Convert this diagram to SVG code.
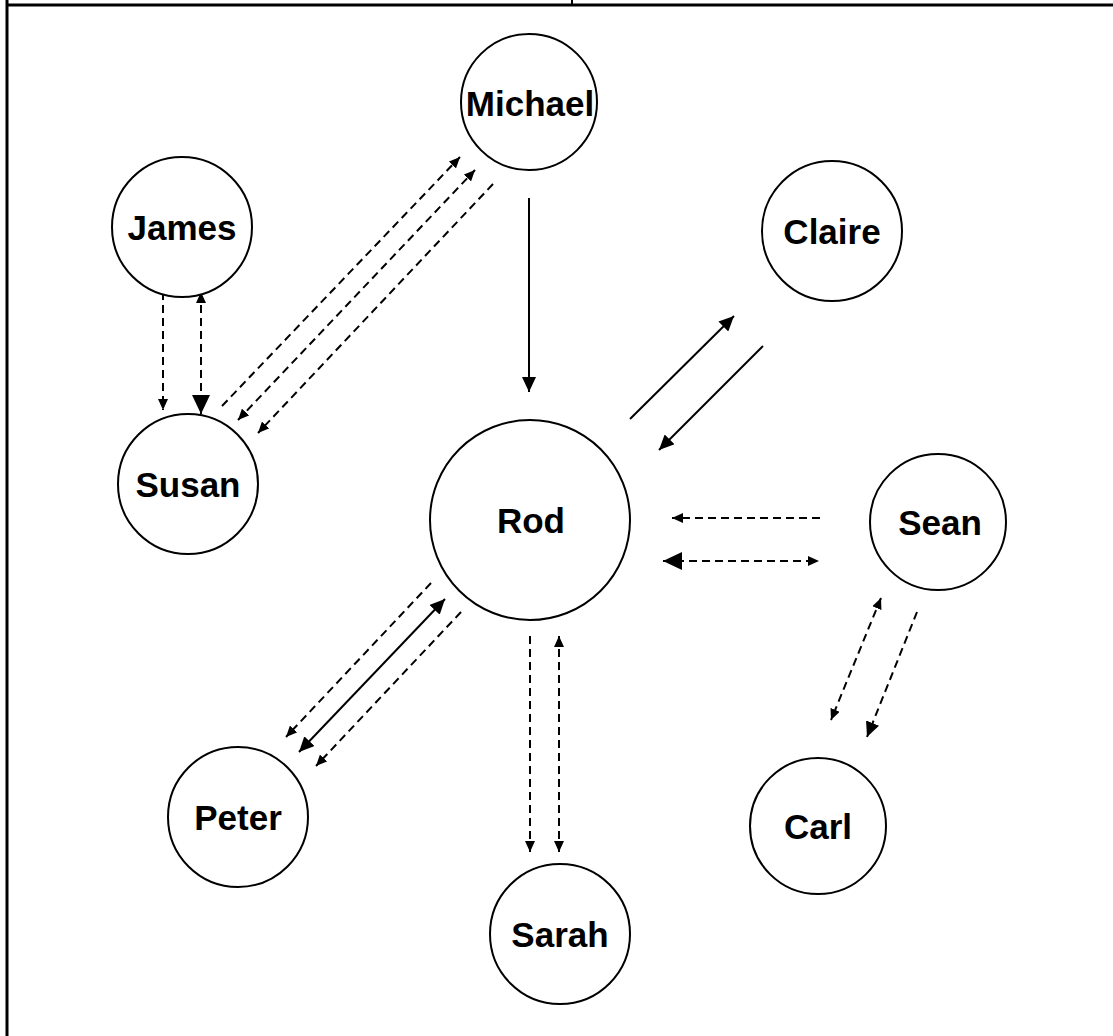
<svg xmlns="http://www.w3.org/2000/svg" width="1113" height="1036" viewBox="0 0 1113 1036">
<style>
.node circle{fill:#fff;stroke:#000;stroke-width:2}
.node text{font-family:"Liberation Sans",Arial,sans-serif;font-weight:bold;font-size:35px;text-anchor:middle;dominant-baseline:central;fill:#000}
.c line{stroke:#000;stroke-width:2;fill:none}
.c .d{stroke-dasharray:8 5}
.frame{stroke:#000;stroke-width:3;fill:none}
</style>
<defs>
<marker id="a" markerUnits="userSpaceOnUse" markerWidth="12" markerHeight="10" refX="11" refY="5" orient="auto-start-reverse"><path d="M0,0 L11,5 L0,10 z" fill="#000"/></marker>
<marker id="b" markerUnits="userSpaceOnUse" markerWidth="20" markerHeight="18" refX="19" refY="9" orient="auto-start-reverse"><path d="M0,0 L19,9 L0,18 z" fill="#000"/></marker>
<marker id="s" markerUnits="userSpaceOnUse" markerWidth="16" markerHeight="14" refX="15" refY="7" orient="auto-start-reverse"><path d="M0,0 L15,7 L0,14 z" fill="#000"/></marker>
</defs>
<g id="frame">
<line class="frame" x1="7" y1="5" x2="1113" y2="5"/>
<line class="frame" x1="7" y1="0" x2="7" y2="1036"/>
<line x1="572" y1="0" x2="572" y2="5" stroke="#000" stroke-width="2"/>
</g>
<g id="connectors" class="c">
<line class="d" x1="163" y1="292" x2="163" y2="410" marker-end="url(#a)"/>
<line class="d" x1="201" y1="292" x2="201" y2="414" marker-start="url(#a)" marker-end="url(#b)"/>
<line class="d" x1="222" y1="406" x2="460" y2="157" marker-end="url(#a)"/>
<line class="d" x1="238" y1="420" x2="475" y2="170" marker-start="url(#a)" marker-end="url(#a)"/>
<line class="d" x1="493" y1="184" x2="258" y2="433" marker-end="url(#a)"/>
<line x1="529" y1="198" x2="529" y2="392" marker-end="url(#s)"/>
<line x1="630" y1="419" x2="734" y2="316" marker-end="url(#s)"/>
<line x1="763" y1="346" x2="659" y2="450" marker-end="url(#s)"/>
<line class="d" x1="820" y1="518" x2="672" y2="518" marker-end="url(#a)"/>
<line class="d" x1="663" y1="561" x2="819" y2="561" marker-start="url(#b)" marker-end="url(#a)"/>
<line class="d" x1="431" y1="583" x2="286" y2="737" marker-end="url(#a)"/>
<line x1="445" y1="599" x2="299" y2="752" marker-start="url(#s)" marker-end="url(#s)"/>
<line class="d" x1="461" y1="612" x2="316" y2="766" marker-end="url(#a)"/>
<line class="d" x1="530" y1="636" x2="530" y2="852" marker-end="url(#a)"/>
<line class="d" x1="559" y1="636" x2="559" y2="852" marker-start="url(#a)" marker-end="url(#a)"/>
<line class="d" x1="881" y1="598" x2="831" y2="720" marker-start="url(#a)" marker-end="url(#a)"/>
<line class="d" x1="917" y1="612" x2="867" y2="737" marker-end="url(#s)"/>
</g>
<g id="michael" class="node"><circle cx="529" cy="102" r="68"/><text x="530" y="103">Michael</text></g>
<g id="james" class="node"><circle cx="182" cy="227" r="70"/><text x="182" y="227">James</text></g>
<g id="claire" class="node"><circle cx="832" cy="231" r="70"/><text x="832" y="231">Claire</text></g>
<g id="susan" class="node"><circle cx="188" cy="484" r="70"/><text x="188" y="484">Susan</text></g>
<g id="rod" class="node"><circle cx="530" cy="520" r="100"/><text x="531" y="520">Rod</text></g>
<g id="sean" class="node"><circle cx="938" cy="522" r="68"/><text x="940" y="522">Sean</text></g>
<g id="peter" class="node"><circle cx="238" cy="817" r="70"/><text x="238" y="817">Peter</text></g>
<g id="sarah" class="node"><circle cx="560" cy="934" r="70"/><text x="560" y="934">Sarah</text></g>
<g id="carl" class="node"><circle cx="818" cy="826" r="68"/><text x="818" y="826">Carl</text></g>
</svg>
